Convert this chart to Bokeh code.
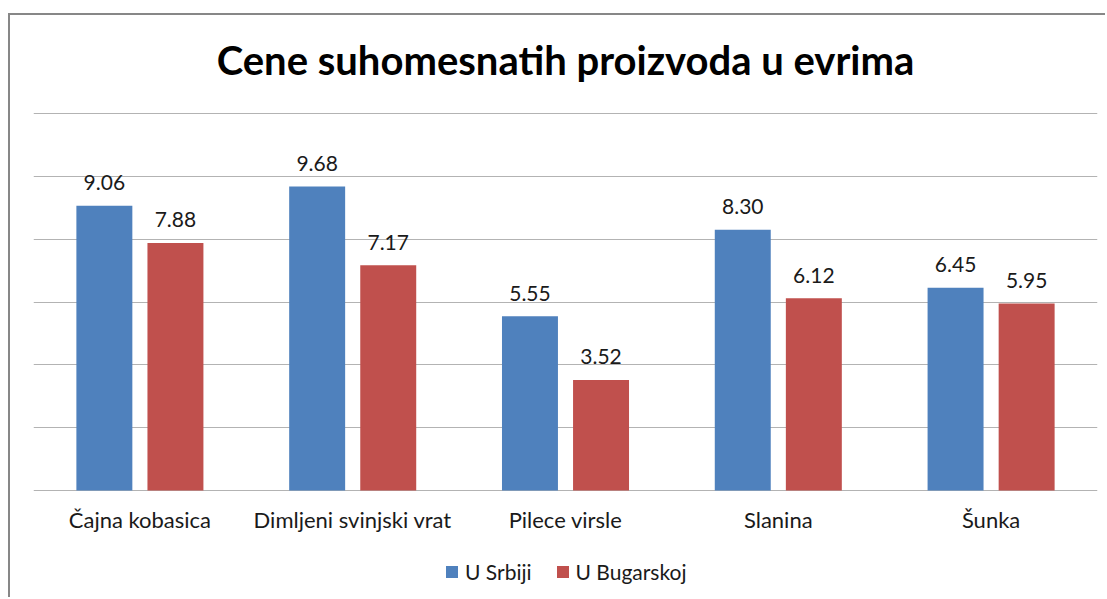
from bokeh.plotting import figure
from bokeh.models import ColumnDataSource, FactorRange, Range1d, Legend, LegendItem, SingleIntervalTicker, LabelSet, Label
from bokeh.core.properties import value
from bokeh.transform import dodge
from bokeh.embed import file_html
from bokeh.resources import INLINE

categories = ["Čajna kobasica", "Dimljeni svinjski vrat", "Pilece virsle", "Slanina", "Šunka"]
srbija = [9.06, 9.68, 5.55, 8.30, 6.45]
bugarska = [7.88, 7.17, 3.52, 6.12, 5.95]
series_names = ["U Srbiji", "U Bugarskoj"]
title_text = "Cene suhomesnatih proizvoda u evrima"

src = ColumnDataSource(dict(
    cat=categories,
    zero=[0] * len(categories),
    srb=srbija,
    bug=bugarska,
    srb_lbl=[f"{v:.2f}" for v in srbija],
    bug_lbl=[f"{v:.2f}" for v in bugarska],
))

FONT = "Lato"
TXT = "#1a1a1a"

p = figure(
    width=1097, height=584,
    x_range=FactorRange(*categories, range_padding=0),
    y_range=Range1d(-3.47, 15.12),
    output_backend="svg", toolbar_location=None,
    min_border_left=23, min_border_right=10, min_border_top=0, min_border_bottom=0,
)
p.styles = {
    "border-left": "2px solid #878787",
    "border-top": "2px solid #878787",
    "margin-left": "8px",
    "margin-top": "13px",
}
p.outline_line_color = None
p.background_fill_color = "white"
p.border_fill_color = "white"

p.xaxis.visible = False
p.yaxis.visible = False
p.xgrid.grid_line_color = None
p.ygrid.ticker = SingleIntervalTicker(interval=2)
p.ygrid.bounds = (0, 12)
p.ygrid.grid_line_color = "#b3b3b3"
p.ygrid.grid_line_width = 1

W = 0.263
OFF = 0.167
r1 = p.vbar(x=dodge("cat", -OFF, range=p.x_range), top="srb", width=W, source=src,
            fill_color="#4F81BD", line_color=None)
r2 = p.vbar(x=dodge("cat", OFF, range=p.x_range), top="bug", width=W, source=src,
            fill_color="#C0504D", line_color=None)

for col, lbl, off in (("srb", "srb_lbl", -OFF), ("bug", "bug_lbl", OFF)):
    p.add_layout(LabelSet(x=dodge("cat", off, range=p.x_range), y=col, text=lbl, source=src,
                          text_align="center", text_baseline="middle", y_offset=23,
                          text_font=value(FONT), text_font_size="21px", text_color=TXT))

# category labels under the baseline
p.add_layout(LabelSet(x="cat", y="zero", text="cat", source=src,
                      text_align="center", text_baseline="middle", y_offset=-29,
                      text_font=value(FONT), text_font_size="22px", text_color=TXT))

# chart title
p.add_layout(Label(x=532, y=540, x_units="screen", y_units="screen", text=title_text,
                   text_align="center", text_baseline="alphabetic",
                   text_font=FONT, text_font_style="bold", text_font_size="40px",
                   text_color="black"))

legend = Legend(items=[LegendItem(label=series_names[0], renderers=[r1]),
                       LegendItem(label=series_names[1], renderers=[r2])],
                orientation="horizontal", location=(411, 15))
legend.label_text_font = FONT
legend.label_text_font_size = "21px"
legend.label_text_color = TXT
legend.glyph_width = 15
legend.glyph_height = 15
legend.label_standoff = 6
legend.spacing = 23
legend.border_line_color = None
legend.background_fill_alpha = 0
legend.padding = 0
legend.margin = 0
p.add_layout(legend)

open("out.html", "w").write(file_html(p, INLINE))
